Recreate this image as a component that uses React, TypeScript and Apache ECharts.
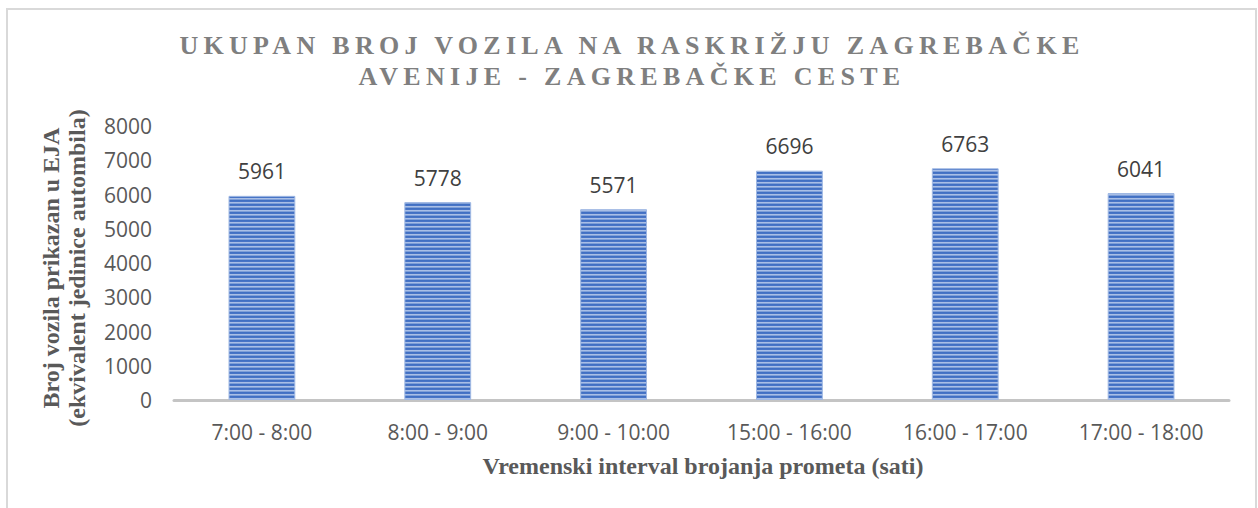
import React, { useEffect, useRef } from "react";
import * as echarts from "echarts";

const categories = ["7:00 - 8:00", "8:00 - 9:00", "9:00 - 10:00", "15:00 - 16:00", "16:00 - 17:00", "17:00 - 18:00"];
const values = [5961, 5778, 5571, 6696, 6763, 6041];
const yMin = 0;
const yMax = 8000;
const yInterval = 1000;
const titleLines = ["UKUPAN BROJ VOZILA NA RASKRIŽJU ZAGREBAČKE", "AVENIJE - ZAGREBAČKE CESTE"];
const yAxisTitleLines = ["Broj vozila prikazan u EJA", "(ekvivalent jedinice autombila)"];
const xAxisTitle = "Vremenski interval brojanja prometa (sati)";

function makeStripe(): HTMLCanvasElement {
  const c = document.createElement("canvas");
  c.width = 4;
  c.height = 4;
  const ctx = c.getContext("2d")!;
  const rows = ["#4170c3", "#4874c6", "#a9bfe6", "#7f9fd8"];
  rows.forEach((col, i) => {
    ctx.fillStyle = col;
    ctx.fillRect(0, i, 4, 1);
  });
  return c;
}

export default function App() {
  const ref = useRef<HTMLDivElement>(null);
  useEffect(() => {
    if (!ref.current) return;
    const chart = echarts.init(ref.current, null, { renderer: "svg" });
    const stripe = makeStripe();
    const serif = "'Liberation Serif', 'Times New Roman', serif";
    const sans = "'Open Sans', 'Noto Sans', sans-serif";
    chart.setOption({
      animation: false,
      backgroundColor: "#ffffff",
      grid: { left: 174, right: 29, top: 126, bottom: 108, containLabel: false },
      xAxis: {
        type: "category",
        data: categories,
        axisLine: { show: true, lineStyle: { color: "#c4c4c4", width: 3 } },
        axisTick: { show: false },
        axisLabel: { color: "#595959", fontFamily: sans, fontSize: 21, margin: 21 },
      },
      yAxis: {
        type: "value",
        min: yMin,
        max: yMax,
        interval: yInterval,
        axisLine: { show: false },
        axisTick: { show: false },
        splitLine: { show: false },
        axisLabel: {
          color: "#595959",
          fontFamily: sans,
          fontSize: 21,
          margin: 22,
          formatter: (v: number) => String(v),
        },
      },
      series: [
        {
          type: "bar",
          data: values,
          barWidth: "38%",
          itemStyle: {
            color: { image: stripe, repeat: "repeat" },
            borderColor: "#9fb8e3",
            borderWidth: 1,
          },
          label: {
            show: true,
            position: "top",
            distance: 14,
            color: "#404040",
            fontFamily: sans,
            fontSize: 21,
          },
        },
      ],
      graphic: [
        {
          type: "rect",
          silent: true,
          shape: { x: 7, y: 9, width: 1249, height: 520 },
          style: { fill: "none", stroke: "#d9d9d9", lineWidth: 2 },
        },
        {
          type: "text",
          x: 632,
          y: 45,
          style: {
            text: titleLines[0],
            fontFamily: serif + ", ttlspc",
            fontSize: 26,
            fontWeight: "bold",
            fill: "#7f7f7f",
            align: "center",
            verticalAlign: "middle",
          },
        },
        {
          type: "text",
          x: 632,
          y: 76,
          style: {
            text: titleLines[1],
            fontFamily: serif + ", ttlspc",
            fontSize: 26,
            fontWeight: "bold",
            fill: "#7f7f7f",
            align: "center",
            verticalAlign: "middle",
          },
        },
        {
          type: "text",
          x: 703,
          y: 466,
          style: {
            text: xAxisTitle,
            fontFamily: serif,
            fontSize: 24,
            fontWeight: "bold",
            fill: "#595959",
            align: "center",
            verticalAlign: "middle",
          },
        },
        {
          type: "text",
          x: 64,
          y: 268,
          rotation: Math.PI / 2,
          style: {
            text: yAxisTitleLines.join("\n"),
            fontFamily: serif,
            fontSize: 24,
            lineHeight: 26,
            fontWeight: "bold",
            fill: "#595959",
            align: "center",
            verticalAlign: "middle",
          },
        },
      ],
    });
    return () => chart.dispose();
  }, []);
  return (
    <>
      <style>{`text[style*="ttlspc"]{letter-spacing:5.3px;}`}</style>
      <div
        ref={ref}
        style={{ position: "absolute", left: 0, top: 0, width: 1258, height: 508 }}
      />
    </>
  );
}
